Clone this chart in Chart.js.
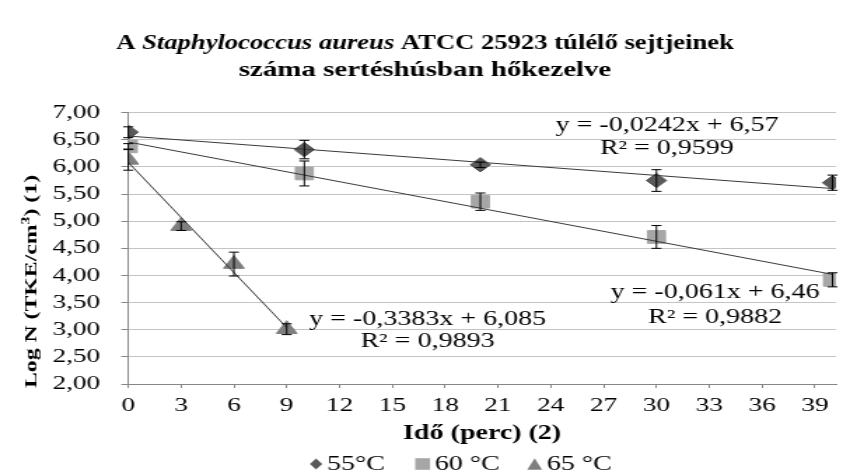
<!DOCTYPE html>
<html><head><meta charset="utf-8">
<script src="https://cdn.jsdelivr.net/npm/chart.js@4/dist/chart.umd.min.js"></script>
<style>html,body{margin:0;padding:0;background:#fff}canvas{display:block}</style>
</head><body>
<canvas id="c" width="607" height="476" style="width:850px;height:476px"></canvas>
<script>
// ---- data ----
const seriesNames = ['55°C', '60 °C', '65 °C'];
const x55 = [0, 10, 20, 30, 40];
const y55 = [6.64, 6.32, 6.04, 5.75, 5.71];
const e55 = [0.10, 0.17, 0.05, 0.20, 0.14];
const x60 = [0, 10, 20, 30, 40];
const y60 = [6.38, 5.88, 5.36, 4.71, 3.92];
const e60 = [0.05, 0.23, 0.16, 0.21, 0.13];
const x65 = [0, 3, 6, 9];
const y65 = [6.13, 4.91, 4.21, 3.01];
const e65 = [0.19, 0.08, 0.22, 0.10];
const trendSlope = [-0.0242, -0.061, -0.3383];
const trendIntercept = [6.57, 6.46, 6.085];
const trendRange = [[0, 40], [0, 40], [0, 9]];
const eqText = ['y = -0,0242x + 6,57', 'y = -0,061x + 6,46', 'y = -0,3383x + 6,085'];
const r2Text = ['R² = 0,9599', 'R² = 0,9882', 'R² = 0,9893'];
const xTicks = [0, 3, 6, 9, 12, 15, 18, 21, 24, 27, 30, 33, 36, 39];
const yTicks = [2, 2.5, 3, 3.5, 4, 4.5, 5, 5.5, 6, 6.5, 7];
const titleLine1 = [['A ', 'bold'], ['Staphylococcus aureus', 'italic bold'], [' ATCC 25923 túlélő sejtjeinek', 'bold']];
const titleLine2 = 'száma sertéshúsban hőkezelve';
const xTitle = 'Idő (perc) (2)';

// ---- styles ----
const FAM = '"Liberation Serif", "Times New Roman", serif';
const colors = ['#595959', '#a6a6a6', '#7f7f7f'];
const styles = ['rectRot', 'rect', 'triangle'];
const radii = [7.2, 9, 8.5];
const eqPos = [[30.6, 6.663, 6.24], [33.33, 3.585, 3.125], [17.0, 3.087, 2.682]];

const series = [
  {x: x55, y: y55, e: e55},
  {x: x60, y: y60, e: e60},
  {x: x65, y: y65, e: e65}
];

const datasets = [];
trendSlope.forEach((a, i) => {
  datasets.push({
    type: 'line', label: 'trend' + i,
    data: trendRange[i].map(xv => ({x: xv, y: a * xv + trendIntercept[i]})),
    borderColor: '#3a3a3a', borderWidth: 1, pointRadius: 0, fill: false, tension: 0
  });
});
series.forEach((s, i) => {
  datasets.push({
    type: 'scatter', label: seriesNames[i],
    data: s.x.map((xv, j) => ({x: xv, y: s.y[j]})),
    pointStyle: styles[i], pointRadius: radii[i], pointHoverRadius: radii[i],
    backgroundColor: colors[i], borderColor: colors[i], borderWidth: 1
  });
});

function drawShape(ctx, kind, cx, cy, hw, hh) {
  ctx.beginPath();
  if (kind === 'rectRot') {
    ctx.moveTo(cx, cy - hh); ctx.lineTo(cx + hw, cy); ctx.lineTo(cx, cy + hh); ctx.lineTo(cx - hw, cy);
  } else if (kind === 'rect') {
    ctx.rect(cx - hw, cy - hh, hw * 2, hh * 2);
  } else {
    ctx.moveTo(cx, cy - hh); ctx.lineTo(cx + hw, cy + hh); ctx.lineTo(cx - hw, cy + hh);
  }
  ctx.closePath(); ctx.fill();
}

const overlay = {
  id: 'overlay',
  afterDatasetsDraw(chart) {
    const {ctx, scales: {x, y}} = chart;
    ctx.save();
    ctx.strokeStyle = '#000'; ctx.lineWidth = 1;
    series.forEach(s => {
      s.x.forEach((xv, j) => {
        const px = x.getPixelForValue(xv);
        const t = y.getPixelForValue(s.y[j] + s.e[j]);
        const b = y.getPixelForValue(s.y[j] - s.e[j]);
        ctx.beginPath();
        ctx.moveTo(px, t); ctx.lineTo(px, b);
        ctx.moveTo(px - 3.6, t); ctx.lineTo(px + 3.6, t);
        ctx.moveTo(px - 3.6, b); ctx.lineTo(px + 3.6, b);
        ctx.stroke();
      });
    });
    ctx.fillStyle = '#000'; ctx.font = '20px ' + FAM;
    ctx.textAlign = 'center'; ctx.textBaseline = 'alphabetic';
    eqPos.forEach((p, i) => {
      const cx = x.getPixelForValue(p[0]);
      ctx.fillText(eqText[i], cx, y.getPixelForValue(p[1]));
      ctx.fillText(r2Text[i], cx, y.getPixelForValue(p[2]));
    });
    ctx.restore();
  },
  afterDraw(chart) {
    const {ctx, width} = chart;
    ctx.save();
    ctx.fillStyle = '#000';
    ctx.textBaseline = 'alphabetic'; ctx.textAlign = 'left';
    // title line 1 (mixed italic), fitted to its width
    let total = 0;
    titleLine1.forEach(seg => { ctx.font = seg[1] + ' 21px ' + FAM; total += ctx.measureText(seg[0]).width; });
    const fit1 = Math.min(1, 441 / total);
    ctx.save();
    ctx.translate(width / 2, 49);
    ctx.scale(fit1, 1);
    let tx = -total / 2;
    titleLine1.forEach(seg => {
      ctx.font = seg[1] + ' 21px ' + FAM;
      ctx.fillText(seg[0], tx, 0);
      tx += ctx.measureText(seg[0]).width;
    });
    ctx.restore();
    ctx.font = 'bold 21px ' + FAM;
    const w2 = ctx.measureText(titleLine2).width;
    const fit2 = Math.min(1, 266 / w2);
    ctx.save();
    ctx.translate(width / 2, 76);
    ctx.scale(fit2, 1);
    ctx.textAlign = 'center';
    ctx.fillText(titleLine2, 0, 0);
    ctx.restore();

    // y-axis title, rotated
    ctx.save();
    ctx.translate(26.4, 281.5);
    ctx.rotate(-Math.PI / 2);
    ctx.scale(1.32, 607 / 850);
    const segs = [['Log N (TKE/cm', 'bold 18px ' + FAM, 0], ['3', 'bold 12px ' + FAM, -7], [') (1)', 'bold 18px ' + FAM, 0]];
    let w = 0;
    segs.forEach(s => { ctx.font = s[1]; w += ctx.measureText(s[0]).width; });
    let sx = -w / 2; ctx.textAlign = 'left';
    segs.forEach(s => { ctx.font = s[1]; ctx.fillText(s[0], sx, s[2]); sx += ctx.measureText(s[0]).width; });
    ctx.restore();

    // legend
    const lx = [225.7, 301.8, 381.8];
    const ly = 464;
    const hws = [[4.4, 5.5], [5.3, 5.8], [5.3, 5.8]];
    ctx.font = '20px ' + FAM; ctx.textAlign = 'left'; ctx.textBaseline = 'middle';
    seriesNames.forEach((n, i) => {
      ctx.fillStyle = colors[i];
      drawShape(ctx, styles[i], lx[i], ly, hws[i][0], hws[i][1]);
      ctx.fillStyle = '#000';
      ctx.fillText(n, lx[i] + hws[i][0] + 3.5, ly + 1);
    });
    ctx.restore();
  }
};

new Chart(document.getElementById('c'), {
  type: 'scatter',
  data: {datasets},
  options: {
    responsive: false, animation: false, devicePixelRatio: 1,
    layout: {padding: {top: 112.7, right: 4.9, left: 0, bottom: 0}},
    plugins: {legend: {display: false}, title: {display: false}, tooltip: {enabled: false}},
    scales: {
      x: {
        type: 'linear', min: 0, max: 40.2,
        afterBuildTicks: s => { s.ticks = xTicks.map(v => ({value: v})); },
        afterFit: s => { s.height = 92; },
        grid: {drawOnChartArea: false, drawTicks: true, tickLength: 4, tickColor: '#868686'},
        border: {color: '#868686', width: 1},
        ticks: {font: {family: FAM, size: 19.5}, color: '#000', padding: 6, maxRotation: 0, autoSkip: false},
        title: {display: true, text: xTitle, color: '#000', font: {family: FAM, size: 20, weight: 'bold'}, padding: {top: 0, bottom: 30}}
      },
      y: {
        type: 'linear', min: 2, max: 7,
        afterBuildTicks: s => { s.ticks = yTicks.map(v => ({value: v})); },
        afterFit: s => { s.width = 91.6; },
        grid: {color: '#c4c4c4', drawTicks: true, tickLength: 5, tickColor: '#868686'},
        border: {color: '#868686', width: 1},
        ticks: {font: {family: FAM, size: 19.5}, color: '#000', padding: 15, autoSkip: false,
          callback: v => v.toFixed(2).replace('.', ',')}
      }
    }
  },
  plugins: [overlay]
});
</script>
</body></html>
